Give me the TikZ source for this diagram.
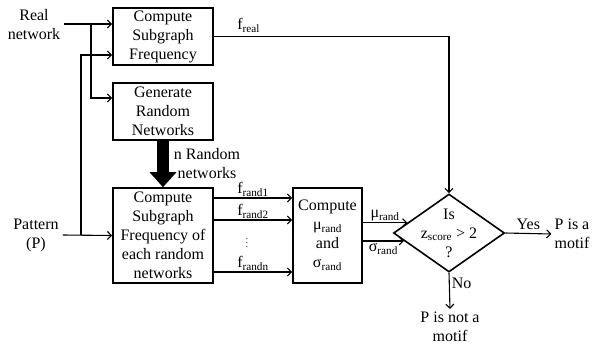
\documentclass[tikz,border=0pt]{standalone}
\usepackage{fontspec}
\setmainfont{Liberation Serif}
\usetikzlibrary{shapes.geometric}
\usetikzlibrary{arrows.meta}
\usetikzlibrary{calc}
\newcommand{\sub}[1]{\textsubscript{#1}}

\begin{document}
\begin{tikzpicture}[x=1pt, y=-1pt,
    font=\fontsize{16}{19}\selectfont,
    box/.style = {draw, line width=1.6pt, inner sep=0pt, align=center},
    lbl/.style = {align=center, inner sep=3pt},
    link/.style = {line width=1.1pt, -{Straight Barb[length=4pt,width=8pt]}}
                    ]
        \useasboundingbox (0,0) rectangle (592,349);
        % boxes
        \node[box, minimum width=100, minimum height=57] at (163,36.5) (freq) {Compute\\Subgraph\\Frequency};
        \node[box, minimum width=100, minimum height=57] at (163,111.5) (gen) {Generate\\Random\\Networks};
        \node[box, minimum width=100, minimum height=95] at (163,235.5) (rfreq) {Compute\\Subgraph\\Frequency of\\each random\\networks};
        \node[box, minimum width=69, minimum height=95] at (327.5,235.5) (stats) {Compute\\μ\sub{rand}\\and\\σ\sub{rand}};
        \node[draw, diamond, line width=1.6pt, minimum width=111, minimum height=78, inner sep=0pt] at (449,233) (test) {};
        \node[lbl] at (test) (testtxt) {Is\\z\sub{score} > 2\\?};
        % inputs and outputs
        \node[lbl, inner sep=4pt] at (34,25) (real) {Real\\network};
        \node[lbl, inner sep=4pt] at (36,235) (pat) {Pattern\\(P)};
        \node[lbl] at (572,234) (motif) {P is a\\motif};
        \node[lbl] at (450,327) (notmotif) {P is not a\\motif};
        \coordinate (j1) at (91,24);
        \coordinate (j2) at (81,235);
        \draw[link] (real.east |- j1) -- ([yshift=12.5pt]freq.west);
        \draw[link] (j1) |- ([yshift=13.5pt]gen.west);
        \draw[link] (pat.east) -- (rfreq.west);
        \draw[link] (j2) |- ([yshift=-18.5pt]freq.west);
        \draw[line width=12pt, -{Triangle[width=26pt,length=15pt]}] (gen.south) -- (rfreq.north);
        \node[lbl] at (207,164) (nrand) {n Random\\networks};
        \draw[link] (freq.east) -| node[pos=0.074, above] (freal) {f\sub{real}} (test.north);
        \foreach \y/\l in {198/rand1, 220/rand2, 272/randn}
            \draw[link] (rfreq.east |- 0,\y) -- node[above, inner sep=1pt] {f\sub{\l}} (stats.west |- 0,\y);
        \node[inner sep=0pt] at (247,240) (dots) {\small$\vdots$};
        \coordinate (mu) at ($(test.west)!0.26!(test.north)$);
        \coordinate (sigma) at ($(test.west)!0.2!(test.south)$);
        \draw[link] (stats.east |- mu) -- node[above, inner sep=1pt] {μ\sub{rand}} (mu);
        \draw[link] (stats.east |- sigma) -- node[below, inner sep=2pt] {σ\sub{rand}} (sigma);
        \draw[link] (test.east) -- node[above] {Yes} (motif.west);
        \draw[link] (test.south) -- node[pos=0.3, right, inner sep=2pt] {No} (notmotif.north);
    \end{tikzpicture}
\end{document}
